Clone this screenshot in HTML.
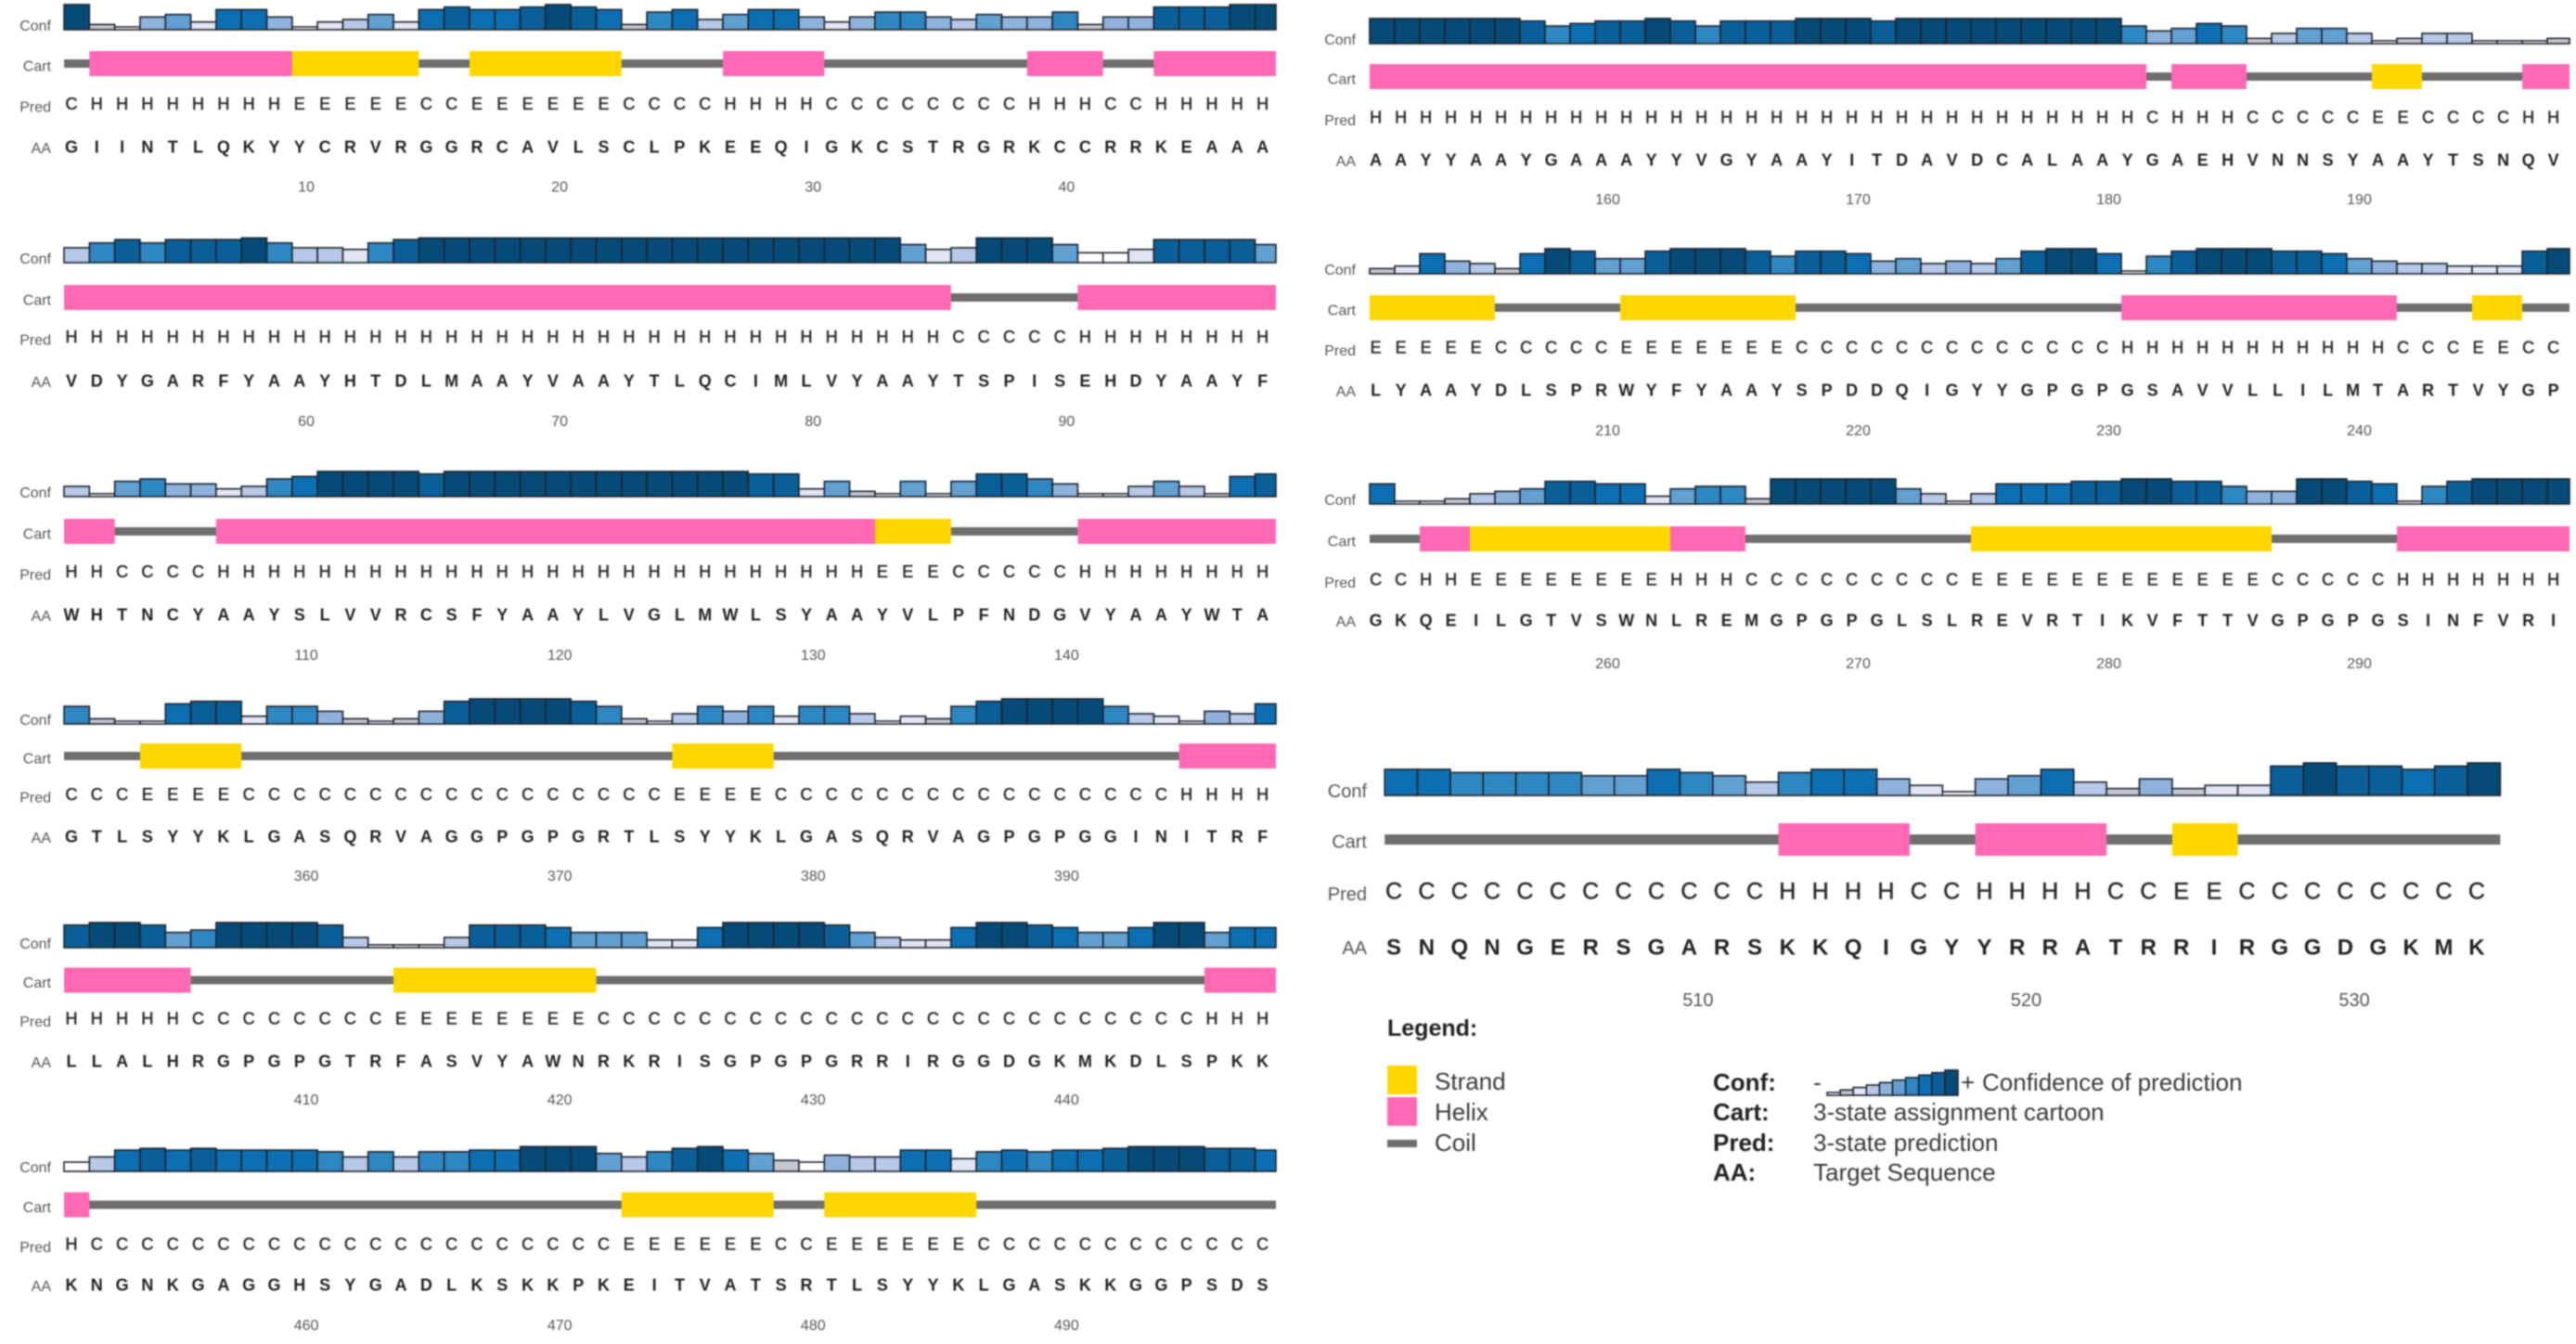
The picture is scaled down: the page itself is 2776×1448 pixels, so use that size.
<!DOCTYPE html>
<html lang="en">
<head>
<meta charset="utf-8">
<title>PSIPRED secondary structure prediction</title>
<style>
html,body{margin:0;padding:0;background:#fff;width:2776px;height:1448px;overflow:hidden}
svg{display:block;font-family:"Liberation Sans",Arial,sans-serif;filter:blur(0.7px)}
</style>
</head>
<body>
<svg id="chart" xmlns="http://www.w3.org/2000/svg" width="2776" height="1448" viewBox="0 0 2776 1448">
<rect width="2776" height="1448" fill="#fff"/>
<g id="panels"></g>
<g font-size="26" fill="#3a3a3a">
<text x="1495" y="1116" font-weight="bold" font-size="25" fill="#222">Legend:</text>
<rect x="1495" y="1148" width="32" height="31" fill="#ffd700"/>
<rect x="1495" y="1182" width="32" height="31" fill="#ff69b4"/>
<rect x="1495" y="1228" width="32" height="8" fill="#6e6e6e"/>
<text x="1546" y="1174">Strand</text>
<text x="1546" y="1207">Helix</text>
<text x="1546" y="1240">Coil</text>
<text x="1846" y="1175" font-weight="bold" fill="#222">Conf:</text>
<text x="1846" y="1207" font-weight="bold" fill="#222">Cart:</text>
<text x="1846" y="1240" font-weight="bold" fill="#222">Pred:</text>
<text x="1846" y="1272" font-weight="bold" fill="#222">AA:</text>
<text x="1954" y="1175">-</text>
<g id="legend-bars"></g>
<text x="2113" y="1175">+</text>
<text x="2136" y="1175">Confidence of prediction</text>
<text x="1954" y="1207">3-state assignment cartoon</text>
<text x="1954" y="1240">3-state prediction</text>
<text x="1954" y="1272">Target Sequence</text>
</g>
</svg>
<script>
// Data: confidence level per residue (0-9), predicted state, amino acid, tick labels
const confRow1 = [9,1,0,4,5,2,7,7,4,0,2,3,5,2,7,8,7,7,8,9,8,7,1,6,7,3,5,7,7,4,2,4,6,6,4,3,5,4,4,6,1,4,4,8,8,8,9,9];
const predRow1 = [..."CHHHHHHHHEEEEECCEEEEEECCCCHHHHCCCCCCCCHHHCCHHHHH"];
const aaRow1 = [..."GIINTLQKYYCRVRGGRCAVLSCLPKEEQIGKCSTRGRKCCRRKEAAA"];
const ticksRow1 = [10,20,30,40];

const confRow2 = [3,6,8,6,8,8,8,9,6,3,3,2,6,8,9,9,9,9,9,9,9,9,9,9,9,9,9,9,9,9,9,9,9,5,2,3,9,9,9,5,0,0,2,8,8,8,8,5];
const predRow2 = [..."HHHHHHHHHHHHHHHHHHHHHHHHHHHHHHHHHHHCCCCCHHHHHHHH"];
const aaRow2 = [..."VDYGARFYAAYHTDLMAAYVAAYTLQCIMLVYAAYTSPISEHDYAAYF"];
const ticksRow2 = [60,70,80,90];

const confRow3 = [3,0,5,6,4,4,2,3,6,7,9,9,9,9,8,9,9,9,9,9,9,9,9,9,9,9,9,8,8,2,5,1,0,5,0,5,8,8,6,4,0,0,3,5,3,0,7,8];
const predRow3 = [..."HHCCCCHHHHHHHHHHHHHHHHHHHHHHHHHHEEECCCCCHHHHHHHH"];
const aaRow3 = [..."WHTNCYAAYSLVVRCSFYAAYLVGLMWLSYAAYVLPFNDGVYAAYWTA"];
const ticksRow3 = [110,120,130,140];

const confRow4 = [6,1,0,0,7,8,8,2,6,6,4,1,0,1,4,8,9,9,9,9,8,6,1,0,3,6,4,6,2,6,6,3,0,2,1,6,8,9,9,9,9,6,3,2,0,4,3,7];
const predRow4 = [..."CCCEEEECCCCCCCCCCCCCCCCCEEEECCCCCCCCCCCCCCCCHHHH"];
const aaRow4 = [..."GTLSYYKLGASQRVAGGPGPGRTLSYYKLGASQRVAGPGPGGINITRF"];
const ticksRow4 = [360,370,380,390];

const confRow5 = [8,9,9,8,5,6,9,9,9,9,8,3,0,0,0,3,8,8,8,7,5,5,5,2,2,7,9,9,9,9,8,5,3,2,2,7,9,9,8,7,5,5,7,9,9,5,7,7];
const predRow5 = [..."HHHHHCCCCCCCCEEEEEEEECCCCCCCCCCCCCCCCCCCCCCCCHHH"];
const aaRow5 = [..."LLALHRGPGPGTRFASVYAWNRKRISGPGPGRRIRGGDGKMKDLSPKK"];
const ticksRow5 = [410,420,430,440];

const confRow6 = [0,3,7,8,7,8,7,7,7,7,6,3,6,3,6,6,7,7,9,9,9,5,3,6,8,9,7,5,1,0,4,3,3,7,7,2,6,7,6,7,7,8,9,9,9,8,8,7];
const predRow6 = [..."HCCCCCCCCCCCCCCCCCCCCCEEEEEECCEEEEEECCCCCCCCCCCC"];
const aaRow6 = [..."KNGNKGAGGHSYGADLKSKKPKEITVATSRTLSYYKLGASKKGGPSDS"];
const ticksRow6 = [460,470,480,490];

const confRight1 = [9,9,9,9,9,9,8,6,7,8,8,9,8,6,8,8,8,9,9,9,8,9,9,9,9,9,9,9,9,9,6,4,5,7,6,1,3,5,5,3,0,1,3,3,0,0,0,1];
const predRight1 = [..."HHHHHHHHHHHHHHHHHHHHHHHHHHHHHHHCHHHCCCCCEECCCCHH"];
const aaRight1 = [..."AAYYAAYGAAAYYVGYAAYITDAVDCALAAYGAEHVNNSYAAYTSNQV"];
const ticksRight1 = [160,170,180,190];

const confRight2 = [1,2,7,4,3,1,7,9,8,5,5,8,9,9,9,8,6,8,8,7,4,5,3,4,3,5,8,9,9,7,0,6,8,9,9,9,8,8,7,5,4,3,3,2,2,2,8,9];
const predRight2 = [..."EEEEECCCCCEEEEEEECCCCCCCCCCCCCHHHHHHHHHHHCCCEECC"];
const aaRight2 = [..."LYAAYDLSPRWYFYAAYSPDDQIGYYGPGPGSAVVLLILMTARTVYGP"];
const ticksRight2 = [210,220,230,240];

const confRight3 = [7,0,0,1,3,4,5,8,8,7,7,2,5,6,6,1,9,9,9,9,9,5,3,0,3,7,7,7,8,8,9,9,8,8,6,4,4,9,9,8,7,0,6,8,9,9,9,9];
const predRight3 = [..."CCHHEEEEEEEEHHHCCCCCCCCCEEEEEEEEEEEECCCCCHHHHHHH"];
const aaRight3 = [..."GKQEILGTVSWNLREMGPGPGLSLREVRTIKVFTTVGPGPGSINFVRI"];
const ticksRight3 = [260,270,280,290];

const confLast = [7,7,6,6,6,6,5,5,7,6,5,3,6,7,7,4,2,0,4,5,7,3,1,4,1,2,2,8,9,8,8,7,8,9];
const predLast = [..."CCCCCCCCCCCCHHHHCCHHHHCCEECCCCCCCC"];
const aaLast = [..."SNQNGERSGARSKKQIGYYRRATRRIRGGDGKMK"];
const ticksLast = [510,520,530];

const legendLevels = [0,1,2,3,4,5,6,7,8,9];

// Styling and layout (not data)
const levelColors = ['#ffffff','#c6c6ce','#e1e5f4','#b8c8e8','#8fb2dc','#62a0d2','#2f87c2','#0d6fb2','#0b5f98','#064a78'];
const stateColors = {H:'#ff69b4', E:'#ffd700'};
const NS = 'http://www.w3.org/2000/svg';
const leftCol = {x:69, right:1375, pitch:27.31, letterX:77, letterPitch:27.31, tickOff:0.56, labelX:55, labelSize:16, tickSize:16, letterSize:18, floor:3, step:2.67, cartH:13.5, coilH:4.5};
const rightCol = {x:1476, right:2769, pitch:27.0, letterX:1482.6, letterPitch:27.0, tickOff:0.5, labelX:1461, labelSize:16, tickSize:16, letterSize:18, floor:3, step:2.67, cartH:13.5, coilH:4.5};
const lastCol = {x:1492.2, right:2694.5, pitch:35.36, letterX:1502, letterPitch:35.36, tickOff:0.55, labelX:1473, labelSize:20, tickSize:20, letterSize:24, floor:4, step:3.45, cartH:17.5, coilH:5.5};
const panels = [
 {...leftCol, conf:confRow1, pred:predRow1, aa:aaRow1, ticks:ticksRow1, first:1, base:32, cart:68.5, predY:111.5, aaY:158, tickY:200.5},
 {...leftCol, conf:confRow2, pred:predRow2, aa:aaRow2, ticks:ticksRow2, first:51, base:283, cart:320.5, predY:362.5, aaY:410, tickY:453, floor:10.7, step:1.77},
 {...leftCol, conf:confRow3, pred:predRow3, aa:aaRow3, ticks:ticksRow3, first:101, base:535, cart:572.5, predY:615.5, aaY:662, tickY:705},
 {...leftCol, conf:confRow4, pred:predRow4, aa:aaRow4, ticks:ticksRow4, first:351, base:780, cart:814.5, predY:855.5, aaY:901, tickY:943},
 {...leftCol, conf:confRow5, pred:predRow5, aa:aaRow5, ticks:ticksRow5, first:401, base:1021, cart:1056, predY:1097, aaY:1143, tickY:1184},
 {...leftCol, conf:confRow6, pred:predRow6, aa:aaRow6, ticks:ticksRow6, first:451, base:1262, cart:1298, predY:1340, aaY:1384, tickY:1427, floor:10, step:1.85},
 {...rightCol, conf:confRight1, pred:predRight1, aa:aaRight1, ticks:ticksRight1, first:151, base:47, cart:82.5, predY:126, aaY:172, tickY:214},
 {...rightCol, conf:confRight2, pred:predRight2, aa:aaRight2, ticks:ticksRight2, first:201, base:295, cart:331.5, predY:374, aaY:420, tickY:463},
 {...rightCol, conf:confRight3, pred:predRight3, aa:aaRight3, ticks:ticksRight3, first:251, base:543, cart:580.5, predY:624, aaY:668, tickY:714},
 {...lastCol, conf:confLast, pred:predLast, aa:aaLast, ticks:ticksLast, first:501, base:857, cart:904.5, predY:960, aaY:1020, tickY:1077}
];

function xScale(p, i){ return p.x + i * p.pitch; }
function letterScale(p, i){ return p.letterX + i * p.letterPitch; }
function heightScale(p, level){ return p.floor + p.step * level; }
function spanWidth(p, from, to){ return Math.min(xScale(p, to), p.right) - xScale(p, from); }
function make(tag, attrs, parent){
  const el = document.createElementNS(NS, tag);
  for (const k in attrs) el.setAttribute(k, attrs[k]);
  parent.appendChild(el);
  return el;
}

const root = document.getElementById('panels');
panels.forEach(function(p){
  const g = make('g', {}, root);
  
  

  // row labels
  [['Conf', p.base - 5],['Cart', p.cart + 2],['Pred', p.predY + 3],['AA', p.aaY + 1]].forEach(function(r){
    const t = make('text', {x:p.labelX, y:r[1] + p.labelSize * 0.36, 'text-anchor':'end', 'font-size':p.labelSize, fill:'#555'}, g);
    
    
    t.textContent = r[0];
  });

  // confidence bars
  p.conf.forEach(function(level, i){
    const h = heightScale(p, level);
    const bar = make('rect', {x:xScale(p,i), y:p.base - h, width:spanWidth(p, i, i + 1), height:h, fill:levelColors[level], stroke:'#1a242e', 'stroke-width':1.6}, g);
    
    
  });

  // cartoon: a coil line behind, merged runs of helix / strand over it
  const coil = make('rect', {x:xScale(p,0), y:p.cart - p.coilH, width:spanWidth(p, 0, p.pred.length), height:p.coilH * 2, fill:'#6e6e6e'}, g);
  
  
  let start = 0;
  for (let i = 1; i <= p.pred.length; i++){
    if (i === p.pred.length || p.pred[i] !== p.pred[start]){
      const state = p.pred[start];
      if (stateColors[state]){
        const seg = make('rect', {x:xScale(p,start), y:p.cart - p.cartH, width:spanWidth(p, start, i), height:p.cartH * 2, fill:stateColors[state]}, g);
        
        
      }
      start = i;
    }
  }

  // prediction letters
  p.pred.forEach(function(ch, i){
    const t = make('text', {x:letterScale(p,i), y:p.predY + p.letterSize * 0.36, 'text-anchor':'middle', 'font-size':p.letterSize + (p.letterSize > 20 ? 1 : 0), fill:'#2a2a2a', stroke:'#2a2a2a', 'stroke-width':0.5}, g);
    
    
    t.textContent = ch;
  });

  // amino acid letters
  p.aa.forEach(function(ch, i){
    const t = make('text', {x:letterScale(p,i), y:p.aaY + p.letterSize * 0.36, 'text-anchor':'middle', 'font-size':p.letterSize, 'font-weight':'bold', fill:'#222'}, g);
    
    
    t.textContent = ch;
  });

  // residue ticks
  p.ticks.forEach(function(label){
    const t = make('text', {x:xScale(p, label - p.first + p.tickOff), y:p.tickY + p.tickSize * 0.36, 'text-anchor':'middle', 'font-size':p.tickSize, fill:'#555'}, g);
    
    
    t.textContent = label;
  });
});

// legend confidence scale
const legendGroup = document.getElementById('legend-bars');
legendLevels.forEach(function(level, i){
  const h = 3 + 2.67 * level;
  const bar = make('rect', {x:1969 + i * 14.1, y:1180 - h, width:14.1, height:h, fill:levelColors[level], stroke:'#1a242e', 'stroke-width':1.6}, legendGroup);
  
  
});
</script>
</body>
</html>
